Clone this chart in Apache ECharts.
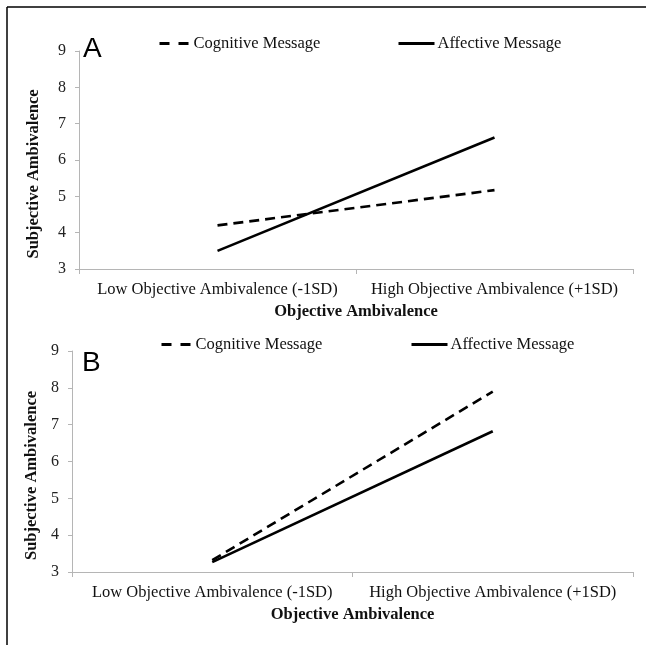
<!DOCTYPE html>
<html>
<head>
<meta charset="utf-8">
<script src="https://cdn.jsdelivr.net/npm/echarts@6/dist/echarts.min.js"></script>
<style>
  html, body { margin: 0; padding: 0; background: #fff; }
  #chart { width: 646px; height: 645px; }
</style>
</head>
<body>
<div id="chart"></div>
<script>
// data
const categories = ["Low Objective Ambivalence (-1SD)", "High Objective Ambivalence (+1SD)"];
const yTicks = [3, 4, 5, 6, 7, 8, 9];
const cognitiveA = [4.2, 5.17];
const affectiveA = [3.5, 6.62];
const cognitiveB = [3.32, 7.9];
const affectiveB = [3.27, 6.82];

const serif = "Liberation Serif";
const axisGray = "#b5b5b5";

function xAxis(gridIndex) {
  return {
    type: "category",
    gridIndex,
    data: categories,
    boundaryGap: true,
    name: "Objective Ambivalence",
    nameLocation: "middle",
    nameGap: 34,
    nameTextStyle: { fontFamily: serif, fontWeight: "bold", fontSize: 16.5, color: "#111" },
    axisLine: { lineStyle: { color: axisGray, width: 1 } },
    axisTick: { show: true, length: 5, lineStyle: { color: axisGray } },
    axisLabel: { interval: 0, fontFamily: serif, fontSize: 16.5, color: "#111", margin: 12 },
  };
}

function yAxis(gridIndex, nameGap) {
  return {
    type: "value",
    gridIndex,
    min: yTicks[0],
    max: yTicks[yTicks.length - 1],
    interval: 1,
    name: "Subjective Ambivalence",
    nameLocation: "middle",
    nameRotate: 90,
    nameGap,
    nameTextStyle: { fontFamily: serif, fontWeight: "bold", fontSize: 16.5, color: "#111", padding: [0, 28, 0, 0] },
    axisLine: { show: true, lineStyle: { color: axisGray, width: 1 } },
    axisTick: { show: true, length: 4, lineStyle: { color: axisGray } },
    axisLabel: { fontFamily: serif, fontSize: 16, color: "#222", margin: 13 },
    splitLine: { show: false },
  };
}

function line(name, data, idx, dashed) {
  return {
    name,
    type: "line",
    xAxisIndex: idx,
    yAxisIndex: idx,
    data,
    symbol: "none",
    silent: true,
    lineStyle: { color: "#000", width: 2.6, type: dashed ? [10, 6] : "solid" },
    itemStyle: { color: "#000" },
  };
}

function legend(name, left, top, width, dashed) {
  return {
    data: [name],
    left,
    top,
    itemWidth: width,
    itemHeight: 14,
    selectedMode: false,
    itemStyle: { opacity: 0 },
    lineStyle: { width: 3, type: dashed ? [10, 9] : "solid" },
    textStyle: { fontFamily: serif, fontSize: 16.5, color: "#111", padding: [0, 0, 0, dashed ? 0 : -2] },
  };
}

const chart = echarts.init(document.getElementById("chart"));
chart.setOption({
  animation: false,
  backgroundColor: "#fff",
  grid: [
    { left: 79, right: 13, top: 51, height: 218 },
    { left: 72, right: 13, top: 351, height: 221 },
  ],
  legend: [
    legend("Cognitive Message", 153, 30, 29, true),
    legend("Affective Message", 392, 30, 36, false),
    legend("Cognitive Message", 155, 331, 29, true),
    legend("Affective Message", 405, 331, 36, false),
  ],
  xAxis: [xAxis(0), xAxis(1)],
  yAxis: [yAxis(0, 37), yAxis(1, 30)],
  series: [
    line("Cognitive Message", cognitiveA, 0, true),
    line("Affective Message", affectiveA, 0, false),
    line("Cognitive Message", cognitiveB, 1, true),
    line("Affective Message", affectiveB, 1, false),
  ],
  graphic: [
    { type: "line", shape: { x1: 7, y1: 7, x2: 7, y2: 645 }, style: { stroke: "#000", lineWidth: 1.5 } },
    { type: "line", shape: { x1: 7, y1: 7, x2: 646, y2: 7 }, style: { stroke: "#000", lineWidth: 1.5 } },
    { type: "text", left: 83, top: 35, style: { text: "A", fontFamily: "Liberation Sans", fontSize: 28, fill: "#000" } },
    { type: "text", left: 82, top: 349, style: { text: "B", fontFamily: "Liberation Sans", fontSize: 28, fill: "#000" } },
  ],
});
</script>
</body>
</html>
